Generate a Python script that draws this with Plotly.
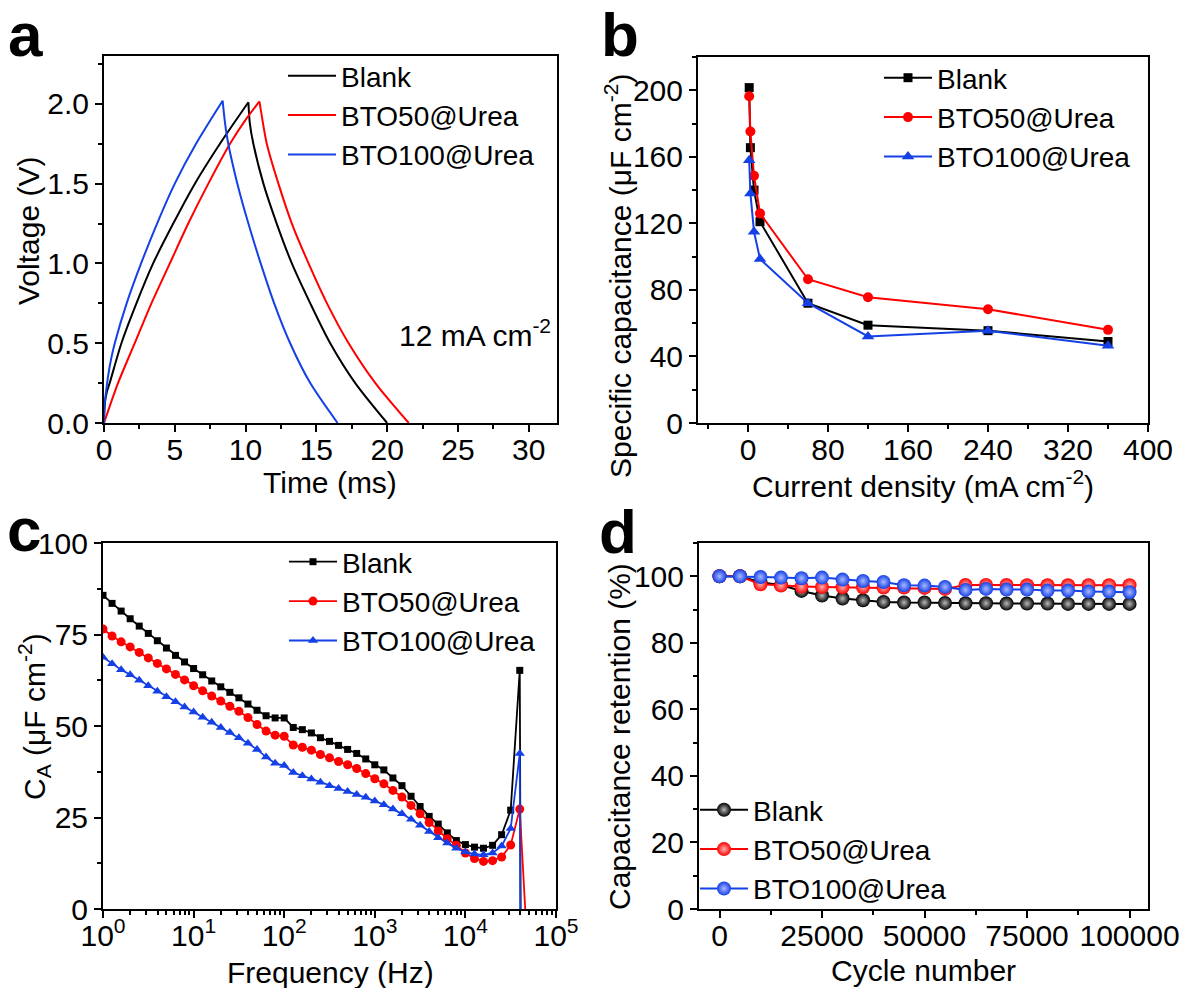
import plotly.graph_objects as go

# ---------------- data ----------------
names = ["Blank", "BTO50@Urea", "BTO100@Urea"]
colors = ["#000000", "#FF0000", "#1440E6"]

# (a) galvanostatic charge/discharge at 12 mA cm-2 (charge and discharge branches)
t_blank_ch = [0, 0.03, 0.1, 0.22, 0.4, 1.23, 2.29, 3.47, 4.89, 6.42, 8.19, 10.2]
v_blank_ch = [0, 0.08, 0.15, 0.2, 0.25, 0.5, 0.75, 1.0, 1.25, 1.5, 1.75, 2.01]
t_blank_dis = [10.2, 10.3, 10.55, 11.26, 12.2, 13.27, 14.57, 15.98, 17.75, 20.0]
v_blank_dis = [2.01, 1.88, 1.75, 1.5, 1.25, 1.0, 0.75, 0.5, 0.25, 0.0]
t_bto50_ch = [0, 0.99, 2.17, 3.35, 4.65, 5.95, 7.37, 8.9, 10.0, 10.98]
v_bto50_ch = [0, 0.25, 0.5, 0.75, 1.0, 1.25, 1.5, 1.75, 1.9, 2.015]
t_bto50_dis = [10.98, 11.1, 11.5, 12.32, 13.27, 14.45, 15.75, 17.28, 19.17, 21.53]
v_bto50_dis = [2.015, 1.95, 1.75, 1.5, 1.25, 1.0, 0.75, 0.5, 0.25, 0.0]
t_bto100_ch = [0, 0.03, 0.15, 0.3, 0.5, 0.76, 1.6, 2.62, 3.75, 5.0, 6.5, 8.38]
v_bto100_ch = [0, 0.1, 0.2, 0.3, 0.4, 0.5, 0.75, 1.0, 1.25, 1.5, 1.75, 2.02]
t_bto100_dis = [8.38, 8.55, 8.78, 9.42, 10.2, 11.07, 12.02, 13.15, 14.57, 16.5]
v_bto100_dis = [2.02, 1.88, 1.75, 1.5, 1.25, 1.0, 0.75, 0.5, 0.25, 0.0]

# (b) specific capacitance vs current density
current_density = [1.2, 2.4, 6, 12, 60, 120, 240, 360]
cs_blank = [201.6, 165.5, 140, 121, 72, 58.8, 55.5, 49]
cs_bto50 = [196.4, 175.2, 148.6, 126, 86.4, 75.6, 68.4, 56]
cs_bto100 = [158, 138, 115, 98.6, 72, 52, 55.4, 46.5]

# (c) areal capacitance vs frequency
freq = [1, 1.259, 1.585, 1.995, 2.512, 3.162, 3.981, 5.012, 6.310, 7.943,
        10, 12.59, 15.85, 19.95, 25.12, 31.62, 39.81, 50.12, 63.10, 79.43,
        100, 125.9, 158.5, 199.5, 251.2, 316.2, 398.1, 501.2, 631.0, 794.3,
        1000, 1259, 1585, 1995, 2512, 3162, 3981, 5012, 6310, 7943,
        10000, 12589, 15849, 19953, 25119, 31623, 39811, 50119]
ca_blank = [85.7, 83.5, 81.4, 79.3, 77.3, 75.3, 73.3, 71.3, 69.3, 67.5,
            65.7, 64.0, 62.3, 60.7, 59.2, 57.7, 56.0, 54.3, 52.8, 52.2,
            52.2, 49.6, 49.0, 48.1, 46.8, 45.8, 44.7, 43.6, 42.5, 41.0,
            39.4, 38.0, 35.8, 33.7, 30.8, 28.0, 25.3, 23.2, 20.8, 18.7,
            17.6, 16.9, 16.6, 17.4, 20.3, 27.0, 65.2, -600]
ca_bto50 = [76.5, 74.6, 73.0, 71.6, 70.1, 68.6, 67.1, 65.6, 64.1, 62.6,
            61.0, 59.6, 58.2, 56.8, 55.4, 54.0, 52.3, 50.4, 48.6, 47.5,
            47.2, 44.8, 44.2, 43.4, 42.2, 41.3, 40.3, 39.4, 38.4, 37.0,
            35.6, 34.2, 32.4, 30.6, 28.3, 26.0, 23.6, 21.3, 19.2, 17.4,
            15.3, 13.8, 13.0, 13.2, 14.2, 17.5, 27.3, -18]
ca_bto100 = [68.8, 67.0, 65.4, 64.0, 62.5, 61.0, 59.5, 58.0, 56.6, 55.2,
             53.8, 52.4, 51.0, 49.6, 48.2, 46.8, 45.3, 43.6, 41.5, 39.8,
             39.2, 37.3, 36.4, 35.5, 34.6, 33.7, 32.9, 32.1, 31.3, 30.5,
             29.5, 28.5, 27.3, 26.0, 24.5, 22.9, 21.2, 19.5, 18.0, 16.6,
             15.6, 15.0, 14.8, 15.3, 17.2, 22.0, 42.5, -800]
freq_tickvals = [1, 10, 100, 1000, 10000, 100000]
freq_ticktext = ["10<sup>0</sup>", "10<sup>1</sup>", "10<sup>2</sup>", "10<sup>3</sup>", "10<sup>4</sup>", "10<sup>5</sup>"]

# (d) cycling stability
cycles = [0, 5000, 10000, 15000, 20000, 25000, 30000, 35000, 40000, 45000, 50000,
          55000, 60000, 65000, 70000, 75000, 80000, 85000, 90000, 95000, 100000]
ret_blank = [100, 100, 98.2, 97.4, 95.6, 94.2, 93.3, 92.8, 92.3, 92.1, 92.1,
             92.0, 91.9, 91.9, 91.8, 91.8, 91.8, 91.7, 91.7, 91.7, 91.7]
ret_bto50 = [100, 100, 97.6, 97.2, 96.9, 96.8, 96.7, 96.7, 96.6, 96.6, 96.5,
             96.2, 97.4, 97.4, 97.4, 97.3, 97.3, 97.3, 97.3, 97.3, 97.3]
ret_bto100 = [100, 100, 99.8, 99.6, 99.4, 99.6, 99.0, 98.6, 98.3, 97.3, 97.2,
              96.8, 95.9, 96.2, 96.0, 96.0, 95.7, 95.7, 95.4, 95.4, 95.2]

# ---------------- figure ----------------
W, H = 1184, 988
FONT = "Arial, Liberation Sans, sans-serif"
FS = 30      # tick labels / axis titles
FL = 28      # legend text


def fx(px):
    return px / W


def fy(py):
    return 1 - py / H


def px_x(a, b):
    return [fx(a), fx(b)]


def px_y(top, bottom):
    return [fy(bottom), fy(top)]


def axis(domain, anchor, rng, dtick, minor_dtick, **kw):
    d = dict(domain=domain, anchor=anchor, range=rng, dtick=dtick,
             showline=True, linecolor="black", linewidth=2, mirror=True,
             ticks="outside", ticklen=7, tickwidth=2, tickcolor="black",
             showgrid=False, zeroline=False, automargin=False,
             tickfont=dict(size=FS, color="black", family=FONT),
             minor=dict(ticks="outside", ticklen=4, tickwidth=2, tickcolor="black",
                        dtick=minor_dtick, showgrid=False))
    d.update(kw)
    return d


fig = go.Figure()

# (a)
branches = [
    (t_blank_ch, v_blank_ch, t_blank_dis, v_blank_dis),
    (t_bto50_ch, v_bto50_ch, t_bto50_dis, v_bto50_dis),
    (t_bto100_ch, v_bto100_ch, t_bto100_dis, v_bto100_dis),
]
for (tc, vc, td, vd), n, c in zip(branches, names, colors):
    fig.add_trace(go.Scatter(x=tc, y=vc, mode="lines", name=n, legendgroup=n,
                             line=dict(color=c, width=2, shape="spline", smoothing=0.8),
                             xaxis="x", yaxis="y", legend="legend"))
    fig.add_trace(go.Scatter(x=td, y=vd, mode="lines", name=n, legendgroup=n, showlegend=False,
                             line=dict(color=c, width=2, shape="spline", smoothing=0.8),
                             xaxis="x", yaxis="y", legend="legend"))

# (b)
symbols = ["square", "circle", "triangle-up"]
sizes_b = [9, 10, 11]
for y, n, c, s, sz in zip([cs_blank, cs_bto50, cs_bto100], names, colors, symbols, sizes_b):
    fig.add_trace(go.Scatter(x=current_density, y=y, mode="lines+markers", name=n,
                             line=dict(color=c, width=2), marker=dict(symbol=s, size=sz, color=c),
                             xaxis="x2", yaxis="y2", legend="legend2"))

# (c)
sizes_c = [7, 9, 9]
for y, n, c, s, sz in zip([ca_blank, ca_bto50, ca_bto100], names, colors, symbols, sizes_c):
    fig.add_trace(go.Scatter(x=freq, y=y, mode="lines+markers", name=n,
                             line=dict(color=c, width=1.8), marker=dict(symbol=s, size=sz, color=c),
                             xaxis="x3", yaxis="y3", legend="legend3"))

# (d)
centers = ["#b8b8b8", "#ffb0b0", "#a8b8ff"]
for y, n, c, cc in zip([ret_blank, ret_bto50, ret_bto100], names, colors, centers):
    fig.add_trace(go.Scatter(x=cycles, y=y, mode="lines+markers", name=n,
                             line=dict(color=c, width=2),
                             marker=dict(symbol="circle", size=14, color=c,
                                         gradient=dict(type="radial", color=cc),
                                         line=dict(width=0)),
                             xaxis="x4", yaxis="y4", legend="legend4"))

dom_a_x, dom_a_y = px_x(104, 557), px_y(56, 423)
dom_b_x, dom_b_y = px_x(698, 1148), px_y(57, 423)
dom_c_x, dom_c_y = px_x(103, 556), px_y(543, 909)
dom_d_x, dom_d_y = px_x(699, 1148), px_y(543, 909)

leg_common = dict(xanchor="left", yanchor="top", bgcolor="rgba(0,0,0,0)",
                  font=dict(size=FL, color="black", family=FONT), tracegroupgap=0,
                  itemwidth=48)

XSO = -8  # pull x tick labels closer to the axis

fig.update_layout(
    width=W, height=H, autosize=False,
    margin=dict(l=0, r=0, t=0, b=0, autoexpand=False),
    paper_bgcolor="white", plot_bgcolor="white",
    font=dict(family=FONT, size=FS, color="black"),
    xaxis=axis(dom_a_x, "y", [0, 32], 5, 2.5, ticklabelstandoff=XSO),
    yaxis=axis(dom_a_y, "x", [0, 2.3], 0.5, 0.25, tickformat=".1f"),
    xaxis2=axis(dom_b_x, "y2", [-50, 400], 80, 40, tick0=0, ticklabelstandoff=XSO),
    yaxis2=axis(dom_b_y, "x2", [0, 220], 40, 20),
    xaxis3=axis(dom_c_x, "y3", [0, 5], None, "D1", type="log",
                tickmode="array", tickvals=freq_tickvals, ticktext=freq_ticktext,
                ticklabelstandoff=XSO),
    yaxis3=axis(dom_c_y, "x3", [0, 100], 25, 12.5),
    xaxis4=axis(dom_d_x, "y4", [-5000, 104500], 25000, 12500, tickformat="d",
                ticklabelstandoff=XSO),
    yaxis4=axis(dom_d_y, "x4", [0, 110], 20, 10),
    legend=dict(x=fx(283), y=fy(51), **leg_common),
    legend2=dict(x=fx(879), y=fy(53), **leg_common),
    legend3=dict(x=fx(284), y=fy(537), **leg_common),
    legend4=dict(x=fx(695), y=fy(785), **leg_common),
    showlegend=True,
)

# axis titles (screen pixel positions of their centres)
texts = [
    ("Time (ms)", 330, 482, 0),
    ("Voltage (V)", 28, 231, -90),
    ("Current density (mA cm<sup>-2</sup>)", 923, 484, 0),
    ("Specific capacitance (μF cm<sup>-2</sup>)", 618, 276, -90),
    ("Frequency (Hz)", 330, 972, 0),
    ("C<sub>A</sub> (μF cm<sup>-2</sup>)", 34, 717, -90),
    ("Cycle number", 923, 970, 0),
    ("Capacitance retention (%)", 619, 737, -90),
]
for txt, xc, yc, ang in texts:
    fig.add_annotation(text=txt, x=fx(xc), y=fy(yc), xref="paper", yref="paper",
                       xanchor="center", yanchor="middle", textangle=ang, showarrow=False,
                       font=dict(size=FS, color="black", family=FONT))

fig.add_annotation(text="12 mA cm<sup>-2</sup>", x=fx(553), y=fy(333), xref="paper", yref="paper",
                   xanchor="right", yanchor="middle", showarrow=False,
                   font=dict(size=FS, color="black", family=FONT))

panel_labels = [("a", 6, 34), ("b", 599, 34), ("c", 5, 529), ("d", 597, 531)]
for lab, xl, yl in panel_labels:
    fig.add_annotation(text="<b>" + lab + "</b>", x=fx(xl), y=fy(yl), xref="paper", yref="paper",
                       xanchor="left", yanchor="middle", showarrow=False,
                       font=dict(size=62, color="black", family=FONT))

fig.write_html(
    "out.html",
    config={"displayModeBar": False},
    post_script="document.body.style.margin='0';document.body.style.overflow='hidden';",
)
